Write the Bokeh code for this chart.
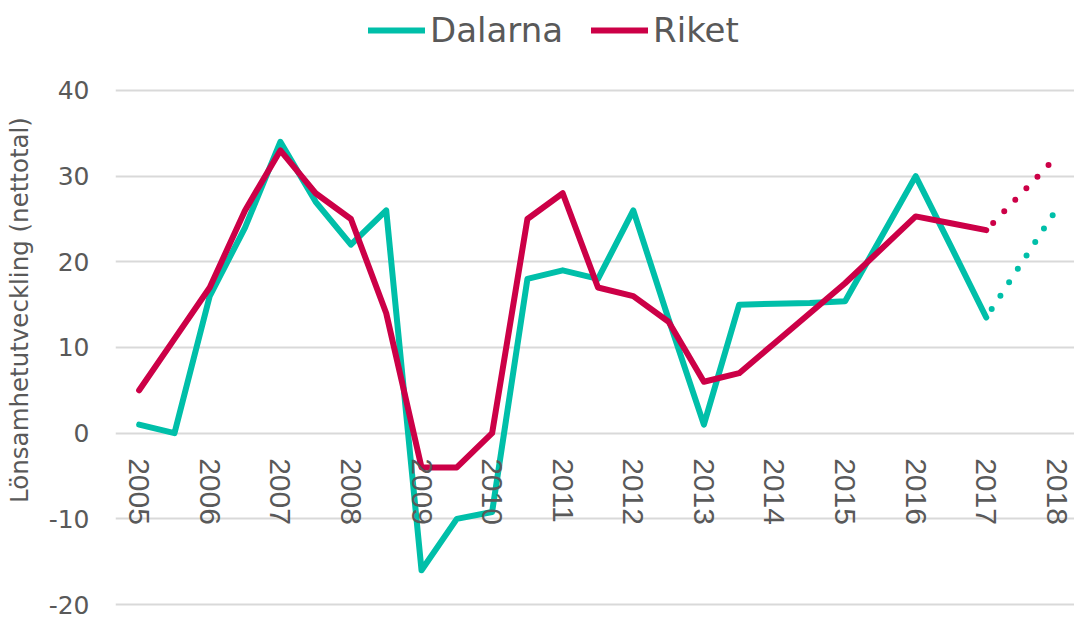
from bokeh.plotting import figure
from bokeh.models import Legend, LegendItem, FixedTicker, Range1d
from bokeh.embed import file_html
from bokeh.resources import INLINE

periods = [2005.0, 2005.5, 2006.0, 2006.5, 2007.0, 2007.5, 2008.0, 2008.5,
           2009.0, 2009.5, 2010.0, 2010.5, 2011.0, 2011.5, 2012.0, 2012.5,
           2013.0, 2013.5, 2014.0, 2014.5, 2015.0, 2015.5, 2016.0, 2016.5, 2017.0]
dalarna = [1, 0, 16, 24, 34, 27, 22, 26, -16, -10, -9.2, 18, 19, 18, 26, 13.3,
           1, 15, 15.1, 15.2, 15.4, 22.7, 30, 21.8, 13.5]
riket = [5, 11, 17, 26, 33, 28, 25, 14, -4, -4, 0, 25, 28, 17, 16, 13,
         6, 7, 10.5, 14, 17.5, 21.4, 25.3, 24.5, 23.7]
forecast_periods = [2017.0, 2018.0]
dalarna_forecast = [13.5, 26.2]
riket_forecast = [23.7, 32.3]
year_ticks = [2005, 2006, 2007, 2008, 2009, 2010, 2011, 2012, 2013, 2014, 2015, 2016, 2017, 2018]
y_ticks = [-20, -10, 0, 10, 20, 30, 40]
series_names = ["Dalarna", "Riket"]
y_label = "Lönsamhetutveckling (nettotal)"

TEAL = "#00BFA9"
RED = "#CC0047"
TXT = "#595959"

p = figure(width=1074, height=619, output_backend="svg", toolbar_location=None,
           x_range=Range1d(2004.665, 2018.25), y_range=Range1d(-21.75, 50.5),
           min_border_left=115, min_border_right=0, min_border_top=0, min_border_bottom=0)
p.outline_line_color = None
p.background_fill_color = "white"
p.border_fill_color = "white"

r_d = p.line(periods, dalarna, line_color=TEAL, line_width=6, line_join="round", line_cap="round")
r_r = p.line(periods, riket, line_color=RED, line_width=6, line_join="round", line_cap="round")
p.line(forecast_periods, dalarna_forecast, line_color=TEAL, line_width=6,
       line_dash="0 16", line_cap="round", line_dash_offset=-10)
p.line(forecast_periods, riket_forecast, line_color=RED, line_width=6,
       line_dash="0 16", line_cap="round", line_dash_offset=-10)

# grid
p.xgrid.visible = False
p.ygrid.ticker = FixedTicker(ticks=y_ticks)
p.ygrid.grid_line_color = "#D9D9D9"
p.ygrid.grid_line_width = 2

# y axis
p.yaxis.ticker = FixedTicker(ticks=y_ticks)
p.yaxis.major_label_overrides = {t: str(t) for t in y_ticks}
p.yaxis.axis_line_color = None
p.yaxis.major_tick_line_color = None
p.yaxis.minor_tick_line_color = None
p.yaxis.major_label_text_font = "DejaVu Sans"
p.yaxis.major_label_text_font_size = "25px"
p.yaxis.major_label_text_color = TXT
p.yaxis.major_label_standoff = 20
p.yaxis.axis_label = y_label
p.yaxis.axis_label_text_font = "DejaVu Sans"
p.yaxis.axis_label_text_font_size = "24.5px"
p.yaxis.axis_label_text_font_style = "normal"
p.yaxis.axis_label_text_color = TXT
p.yaxis.axis_label_standoff = 12

# x axis sitting on the zero line
p.xaxis.fixed_location = 0
p.xaxis.ticker = FixedTicker(ticks=year_ticks)
p.xaxis.axis_line_color = None
p.xaxis.major_tick_line_color = None
p.xaxis.minor_tick_line_color = None
p.xaxis.major_label_orientation = "vertical"
p.xaxis.major_label_text_font = "Liberation Sans"
p.xaxis.major_label_text_font_size = "30px"
p.xaxis.major_label_text_color = TXT
p.xaxis.major_label_standoff = 19

legend = Legend(items=[LegendItem(label=series_names[0], renderers=[r_d]),
                       LegendItem(label=series_names[1], renderers=[r_r])],
                orientation="horizontal", location=(253, 569),
                glyph_width=57, glyph_height=40, label_standoff=5, spacing=28,
                padding=0, margin=0, border_line_color=None, background_fill_alpha=0,
                label_text_font="DejaVu Sans", label_text_font_size="34px",
                label_text_color=TXT, label_height=40)
p.add_layout(legend, "center")

open("out.html", "w").write(file_html(p, INLINE))
